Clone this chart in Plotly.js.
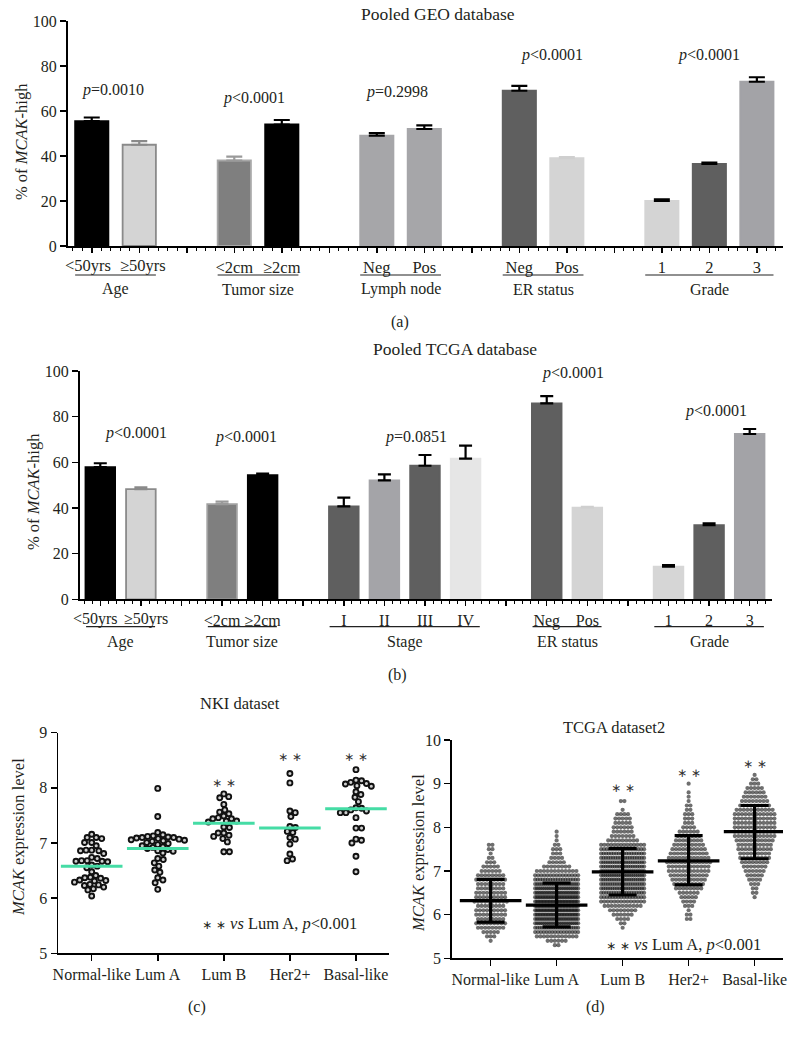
<!DOCTYPE html>
<html><head><meta charset="utf-8">
<script src="https://cdn.plot.ly/plotly-3.0.1.min.js"></script>
<style>html,body{margin:0;padding:0;background:#fff}#chart{width:797px;height:1039px}</style>
</head><body><div id="chart"></div>
<script>
// ---------------- DATA ----------------
// (a) Pooled GEO database
const geoGroups = ['Age', 'Tumor size', 'Lymph node', 'ER status', 'Grade'];
const geoLabels = [['<50yrs', '≥50yrs'], ['<2cm', '≥2cm'], ['Neg', 'Pos'], ['Neg', 'Pos'], ['1', '2', '3']];
const geoValues = [[55.5, 45.0], [38.0, 54.0], [49.0, 52.0], [69.0, 39.0], [20.0, 36.5, 73.0]];
const geoErrors = [[1.6, 1.6], [1.7, 2.0], [1.2, 1.6], [2.2, 0.5], [0.7, 0.6, 2.0]];
const geoPvals = ['=0.0010', '<0.0001', '=0.2998', '<0.0001', '<0.0001'];

// (b) Pooled TCGA database
const tcgaGroups = ['Age', 'Tumor size', 'Stage', 'ER status', 'Grade'];
const tcgaLabels = [['<50yrs', '≥50yrs'], ['<2cm', '≥2cm'], ['I', 'II', 'III', 'IV'], ['Neg', 'Pos'], ['1', '2', '3']];
const tcgaValues = [[57.9, 48.3], [41.7, 54.4], [40.7, 52.1, 58.5, 61.6], [85.8, 40.1], [14.3, 32.5, 72.4]];
const tcgaErrors = [[1.7, 0.7], [1.1, 0.7], [3.8, 2.6, 4.7, 5.7], [3.2, 0.4], [0.7, 0.8, 2.2]];
const tcgaPvals = ['<0.0001', '<0.0001', '=0.0851', '<0.0001', '<0.0001'];

// (c) NKI dataset
const subtypes = ['Normal-like', 'Lum A', 'Lum B', 'Her2+', 'Basal-like'];
const nkiNormal = [7.16, 7.10, 7.10, 7.08, 7.01, 7.01, 6.95, 6.87, 6.87, 6.86, 6.86, 6.81, 6.74, 6.72, 6.68, 6.68, 6.67, 6.67, 6.66, 6.60, 6.58, 6.55, 6.48, 6.41, 6.38, 6.37, 6.36, 6.33, 6.32, 6.31, 6.29, 6.25, 6.24, 6.23, 6.20, 6.17, 6.15, 6.04];
const nkiLumA = [7.99, 7.48, 7.19, 7.15, 7.13, 7.12, 7.11, 7.10, 7.10, 7.09, 7.08, 7.07, 7.06, 7.05, 7.04, 7.03, 7.01, 6.99, 6.97, 6.95, 6.93, 6.92, 6.90, 6.88, 6.86, 6.85, 6.82, 6.72, 6.70, 6.64, 6.58, 6.51, 6.47, 6.37, 6.33, 6.28, 6.16];
const nkiLumB = [7.89, 7.84, 7.82, 7.70, 7.60, 7.56, 7.53, 7.49, 7.46, 7.44, 7.40, 7.40, 7.38, 7.44, 7.29, 7.28, 7.18, 7.18, 7.14, 7.12, 7.08, 7.02, 6.84, 6.84];
const nkiHer2 = [8.26, 8.09, 7.58, 7.55, 7.48, 7.30, 7.28, 7.21, 7.19, 7.10, 7.07, 6.98, 6.80, 6.71, 6.68];
const nkiBasal = [8.33, 8.14, 8.13, 8.10, 8.08, 8.07, 8.04, 8.03, 7.93, 7.88, 7.83, 7.75, 7.64, 7.63, 7.60, 7.58, 7.55, 7.55, 7.46, 7.27, 7.27, 7.07, 7.05, 7.00, 6.76, 6.48];
const nkiMedian = [6.58, 6.90, 7.36, 7.27, 7.62];
const nkiStars = ['', '', '∗ ∗', '∗ ∗', '∗ ∗'];

// (d) TCGA dataset2 : frequency table (expression level bins, number of samples per bin)
const tcga2Bins = [5.3, 5.4, 5.5, 5.6, 5.7, 5.8, 5.9, 6.0, 6.1, 6.2, 6.3, 6.4, 6.5, 6.6, 6.7, 6.8, 6.9, 7.0, 7.1, 7.2, 7.3, 7.4, 7.5, 7.6, 7.7, 7.8, 7.9, 8.0, 8.1, 8.2, 8.3, 8.4, 8.5, 8.6, 8.7, 8.8, 8.9, 9.0, 9.1, 9.2];
const tcga2Normal = [0, 1, 3, 5, 8, 9, 8, 9, 9, 8, 10, 9, 9, 8, 8, 9, 8, 6, 5, 3, 2, 1, 2, 2, 0, 0, 0, 0, 0, 0, 0, 0, 0, 0, 0, 0, 0, 0, 0, 0];
const tcga2LumA = [2, 6, 12, 16, 20, 24, 26, 28, 30, 30, 30, 28, 26, 24, 22, 18, 15, 12, 8, 5, 4, 3, 3, 2, 1, 1, 1, 0, 0, 0, 0, 0, 0, 0, 0, 0, 0, 0, 0, 0];
const tcga2LumB = [0, 0, 0, 0, 1, 2, 4, 6, 8, 11, 14, 16, 18, 20, 20, 21, 21, 21, 20, 20, 19, 18, 16, 14, 9, 7, 6, 6, 5, 5, 4, 1, 0, 2, 0, 0, 0, 0, 0, 0];
const tcga2Her2 = [0, 0, 0, 0, 0, 0, 2, 2, 1, 3, 4, 5, 6, 8, 9, 10, 11, 12, 12, 13, 12, 11, 10, 9, 8, 7, 6, 4, 3, 3, 3, 2, 2, 1, 1, 1, 0, 1, 0, 0];
const tcga2Basal = [0, 0, 0, 0, 0, 0, 0, 0, 0, 0, 0, 1, 2, 2, 3, 4, 5, 6, 7, 8, 9, 9, 10, 10, 11, 12, 12, 12, 12, 12, 12, 11, 9, 8, 7, 6, 5, 3, 2, 1];
const tcga2Mean = [6.32, 6.22, 6.98, 7.23, 7.90];
const tcga2SdHigh = [6.81, 6.72, 7.52, 7.81, 8.50];
const tcga2SdLow = [5.83, 5.72, 6.45, 6.68, 7.28];
const tcga2Stars = ['', '', '∗ ∗', '∗ ∗', '∗ ∗'];

// ---------------- STYLE ----------------
const geoFill = [['#000000', '#d4d4d4'], ['#7f7f7f', '#000000'], ['#a6a6a9', '#a6a6a9'], ['#5f5f5f', '#d4d4d4'], ['#d4d4d4', '#5f5f5f', '#a3a3a7']];
const geoEdge = [['#000000', '#8a8a8a'], ['#a8a8a8', '#000000'], ['#a6a6a9', '#a6a6a9'], ['#5f5f5f', '#d4d4d4'], ['#d4d4d4', '#5f5f5f', '#a3a3a7']];
const geoErrCol = [['#000000', '#8a8a8a'], ['#9a9a9a', '#000000'], ['#000000', '#000000'], ['#000000', '#cfcfcf'], ['#000000', '#000000', '#000000']];
const tcgaFill = [['#000000', '#d4d4d4'], ['#7f7f7f', '#000000'], ['#5f5f5f', '#a4a4a8', '#5f5f5f', '#e6e6e6'], ['#5f5f5f', '#d4d4d4'], ['#d6d6d6', '#5f5f5f', '#a3a3a7']];
const tcgaEdge = [['#000000', '#8a8a8a'], ['#a0a0a0', '#000000'], ['#5f5f5f', '#a4a4a8', '#5f5f5f', '#e6e6e6'], ['#5f5f5f', '#d4d4d4'], ['#d6d6d6', '#5f5f5f', '#a3a3a7']];
const tcgaErrCol = [['#000000', '#8a8a8a'], ['#9a9a9a', '#000000'], ['#000000', '#000000', '#000000', '#000000'], ['#000000', '#cfcfcf'], ['#000000', '#000000', '#000000']];

const W = 797, H = 1039;
const PX = x => x / W;
const PY = y => 1 - y / H;
const FONT = 'Liberation Serif, Times New Roman, serif';
const STARFONT = 'DejaVu Sans';
const TXT = '#231f20';

// panel boxes in pixels
const boxA = {l: 68, r: 783, t: 21, b: 246, xr: [-0.5, 14.55], yr: [0, 100]};
const boxB = {l: 80, r: 772, t: 371, b: 599.3, xr: [-0.5, 16.55], yr: [0, 100]};
const boxC = {l: 58, r: 389, t: 732.7, b: 953.3, xr: [-0.51, 4.5], yr: [5, 9]};
const boxD = {l: 451.7, r: 783, t: 740, b: 958.3, xr: [-0.59, 4.43], yr: [5, 10]};

const xToPx = (box, v) => box.l + (v - box.xr[0]) / (box.xr[1] - box.xr[0]) * (box.r - box.l);

const traces = [], shapes = [], annotations = [];
const layout = {
  width: W, height: H, margin: {l: 0, r: 0, t: 0, b: 0},
  paper_bgcolor: '#fff', plot_bgcolor: 'rgba(0,0,0,0)',
  font: {family: FONT, size: 16, color: TXT},
  showlegend: false, barmode: 'overlay', hovermode: false
};

function baseAxis(box, isX, id) {
  return {
    domain: isX ? [PX(box.l), PX(box.r)] : [PY(box.b), PY(box.t)],
    range: isX ? box.xr : box.yr,
    anchor: (isX ? 'y' : 'x') + id,
    showgrid: false, zeroline: false, showline: true, linecolor: '#000', linewidth: 1.5,
    ticks: 'outside', ticklen: 6, tickwidth: 1.5, tickcolor: '#000', tickangle: 0,
    tickfont: {size: 16, family: FONT, color: TXT}, fixedrange: true
  };
}

function barPanel(id, box, groups, labels, values, errors, fills, edges, errCols, pvals, opt) {
  const ax = id === '1' ? '' : id;
  const tickvals = [], ticktext = [];
  let pos = 0;
  groups.forEach((g, gi) => {
    const first = pos;
    const n = labels[gi].length;
    labels[gi].forEach((lab, j) => {
      traces.push({
        type: 'bar', x: [pos], y: [values[gi][j]], xaxis: 'x' + ax, yaxis: 'y' + ax, width: opt.barWidth,
        marker: {color: fills[gi][j], line: {color: edges[gi][j], width: 1.8}},
        error_y: {type: 'data', symmetric: false, array: [errors[gi][j]], arrayminus: [0],
          color: errCols[gi][j], thickness: 2.2, width: opt.cap},
        hoverinfo: 'skip', showlegend: false
      });
      tickvals.push(pos);
      if (opt.spread && n === 2 && lab.length > 4) {
        // long paired labels are written beside their tick, nudged apart so they do not collide
        ticktext.push('');
        annotations.push({xref: 'x' + ax, yref: 'paper', x: pos + (j === 0 ? -opt.spread : opt.spread),
          y: PY(opt.tickY), xanchor: 'center', yanchor: 'middle', text: lab, showarrow: false,
          font: {size: opt.tickSize}});
      } else {
        ticktext.push(lab);
      }
      pos++;
    });
    const last = pos - 1;
    tickvals.push(pos); ticktext.push('');
    shapes.push({type: 'line', xref: 'paper', yref: 'paper',
      x0: PX(xToPx(box, first - 0.35)), x1: PX(xToPx(box, last + 0.35)),
      y0: PY(opt.lineY), y1: PY(opt.lineY), line: {color: '#222', width: 1.2}});
    annotations.push({xref: 'x' + ax, yref: 'paper', x: (first + last) / 2, y: PY(opt.groupY),
      xanchor: 'center', yanchor: 'middle', text: g, showarrow: false, font: {size: 16}});
    annotations.push({xref: 'x' + ax, yref: 'y' + ax, x: opt.pX[gi], y: opt.pY[gi],
      xanchor: 'center', yanchor: 'middle', text: '<i>p</i>' + pvals[gi], showarrow: false, font: {size: 16}});
    pos++;
  });
  const xa = baseAxis(box, true, ax);
  Object.assign(xa, {tickmode: 'array', tickvals, ticktext, linewidth: 2, ticklen: 5,
    tickfont: {size: opt.tickSize, family: FONT, color: TXT},
    minor: {tickmode: 'linear', tick0: 0, dtick: 0.2, ticks: 'outside', ticklen: 3, tickwidth: 1, tickcolor: '#000', showgrid: false}});
  const ya = baseAxis(box, false, ax);
  Object.assign(ya, {tickmode: 'linear', tick0: 0, dtick: 20, linewidth: 2});
  layout['xaxis' + ax] = xa;
  layout['yaxis' + ax] = ya;
}

barPanel('1', boxA, geoGroups, geoLabels, geoValues, geoErrors, geoFill, geoEdge, geoErrCol, geoPvals,
  {barWidth: 0.7, cap: 8, lineY: 275, groupY: 289, tickSize: 16.5, spread: 0.08, tickY: 266,
   pX: [0.45, 3.41, 6.42, 9.68, 12.99], pY: [69.3, 65.8, 68.4, 84.9, 84.9]});
barPanel('2', boxB, tcgaGroups, tcgaLabels, tcgaValues, tcgaErrors, tcgaFill, tcgaEdge, tcgaErrCol, tcgaPvals,
  {barWidth: 0.73, cap: 6.5, lineY: 626.7, groupY: 641.7, tickSize: 16, spread: 0.13, tickY: 619,
   pX: [0.87, 3.6, 7.77, 11.64, 15.18], pY: [72.8, 71, 71, 99, 82.6]});

// ---------- (c) NKI beeswarm ----------
function swarm(values, d, pxPerY) {
  const idx = values.map((v, i) => i).sort((a, b) => values[b] - values[a]);
  const placed = [], off = new Array(values.length);
  idx.forEach(i => {
    const y = values[i] * pxPerY;
    const near = placed.filter(p => Math.abs(p.y - y) < d);
    const cands = [0];
    near.forEach(p => { const dx = Math.sqrt(d * d - (p.y - y) ** 2); cands.push(p.x + dx + 0.01, p.x - dx - 0.01); });
    cands.sort((a, b) => Math.abs(a) - Math.abs(b));
    const x = cands.find(c => near.every(p => (p.x - c) ** 2 + (p.y - y) ** 2 >= d * d - 0.05));
    placed.push({x, y}); off[i] = x;
  });
  return off;
}
const cPxX = (boxC.r - boxC.l) / (boxC.xr[1] - boxC.xr[0]);
const cPxY = (boxC.b - boxC.t) / (boxC.yr[1] - boxC.yr[0]);
[nkiNormal, nkiLumA, nkiLumB, nkiHer2, nkiBasal].forEach((vals, ci) => {
  const off = swarm(vals, 5.6, cPxY);
  traces.push({type: 'scatter', mode: 'markers', xaxis: 'x3', yaxis: 'y3',
    x: off.map(o => ci + o / cPxX), y: vals,
    marker: {symbol: 'circle', size: 5, color: '#cfcfcf', line: {color: '#111', width: 1.9}},
    hoverinfo: 'skip'});
});
traces.push({type: 'scatter', mode: 'markers', xaxis: 'x3', yaxis: 'y3',
  x: subtypes.map((s, i) => i), y: nkiMedian,
  marker: {symbol: 'line-ew', size: 44, line: {color: '#45dca5', width: 3}}, hoverinfo: 'skip'});
subtypes.forEach((s, i) => {
  if (nkiStars[i]) annotations.push({xref: 'x3', yref: 'y3', x: i, y: [0, 0, 8.09, 8.56, 8.56][i],
    xanchor: 'center', yanchor: 'middle', text: nkiStars[i], showarrow: false,
    font: {size: 12, color: '#333', family: STARFONT}});
});
layout.xaxis3 = Object.assign(baseAxis(boxC, true, '3'), {tickmode: 'array', tickvals: subtypes.map((s, i) => i), ticktext: subtypes});
layout.yaxis3 = Object.assign(baseAxis(boxC, false, '3'), {tickmode: 'linear', tick0: 5, dtick: 1});

// ---------- (d) TCGA dataset2 ----------
const dPxX = (boxD.r - boxD.l) / (boxD.xr[1] - boxD.xr[0]);
[tcga2Normal, tcga2LumA, tcga2LumB, tcga2Her2, tcga2Basal].forEach((counts, ci) => {
  const xs = [], ys = [];
  counts.forEach((n, bi) => {
    if (!n) return;
    const step = n > 1 ? Math.min(3.6, 43 / (n - 1)) : 0;
    for (let k = 0; k < n; k++) {
      xs.push(ci + (k - (n - 1) / 2) * step / dPxX);
      ys.push(tcga2Bins[bi]);
    }
  });
  traces.push({type: 'scatter', mode: 'markers', xaxis: 'x4', yaxis: 'y4', x: xs, y: ys,
    marker: {symbol: 'circle', size: 4.2, color: 'rgba(15,15,15,0.6)', line: {width: 0}},
    hoverinfo: 'skip'});
});
traces.push({type: 'scatter', mode: 'markers', xaxis: 'x4', yaxis: 'y4',
  x: subtypes.map((s, i) => i), y: tcga2Mean,
  marker: {symbol: 'line-ew', size: 44, line: {color: '#000', width: 3.2}},
  error_y: {type: 'data', symmetric: false,
    array: tcga2Mean.map((m, i) => tcga2SdHigh[i] - m),
    arrayminus: tcga2Mean.map((m, i) => m - tcga2SdLow[i]),
    color: '#000', thickness: 3.2, width: 14},
  hoverinfo: 'skip'});
subtypes.forEach((s, i) => {
  if (tcga2Stars[i]) annotations.push({xref: 'x4', yref: 'y4', x: i, y: [0, 0, 8.9, 9.24, 9.45][i],
    xanchor: 'center', yanchor: 'middle', text: tcga2Stars[i], showarrow: false,
    font: {size: 12, color: '#333', family: STARFONT}});
});
layout.xaxis4 = Object.assign(baseAxis(boxD, true, '4'), {tickmode: 'array', tickvals: subtypes.map((s, i) => i), ticktext: subtypes});
layout.yaxis4 = Object.assign(baseAxis(boxD, false, '4'), {tickmode: 'linear', tick0: 5, dtick: 1});

// ---------- titles / labels ----------
const paperText = (x, y, text, size, extra) => annotations.push(Object.assign({xref: 'paper', yref: 'paper',
  x: PX(x), y: PY(y), xanchor: 'center', yanchor: 'middle', text, showarrow: false, font: {size: size || 16}}, extra || {}));
paperText(438, 14, 'Pooled GEO database', 17.5);
paperText(455, 349, 'Pooled TCGA database', 17.5);
paperText(240, 703, 'NKI dataset', 16.5);
paperText(614, 727, 'TCGA dataset2', 16.5);
paperText(400, 322, '(a)', 16);
paperText(397, 675, '(b)', 16);
paperText(197, 1007, '(c)', 16);
paperText(595, 1007, '(d)', 16);
paperText(22, 142, '% of <i>MCAK</i>-high', 16.5, {textangle: -90});
paperText(33, 492, '% of <i>MCAK</i>-high', 16.5, {textangle: -90});
paperText(18, 837, '<i>MCAK</i> expression level', 16.5, {textangle: -90});
paperText(418, 853, '<i>MCAK</i> expression level', 16.5, {textangle: -90});
const starSpan = '<span style="font-size:12px;font-family:DejaVu Sans">∗ ∗</span>';
paperText(279, 923, starSpan + ' <i>vs</i> Lum A, <i>p</i><0.001', 16.5);
paperText(683, 944, starSpan + ' <i>vs</i> Lum A, <i>p</i><0.001', 16.5);

layout.shapes = shapes;
layout.annotations = annotations;
Plotly.newPlot('chart', traces, layout, {staticPlot: true, displayModeBar: false});
</script>
</body></html>
